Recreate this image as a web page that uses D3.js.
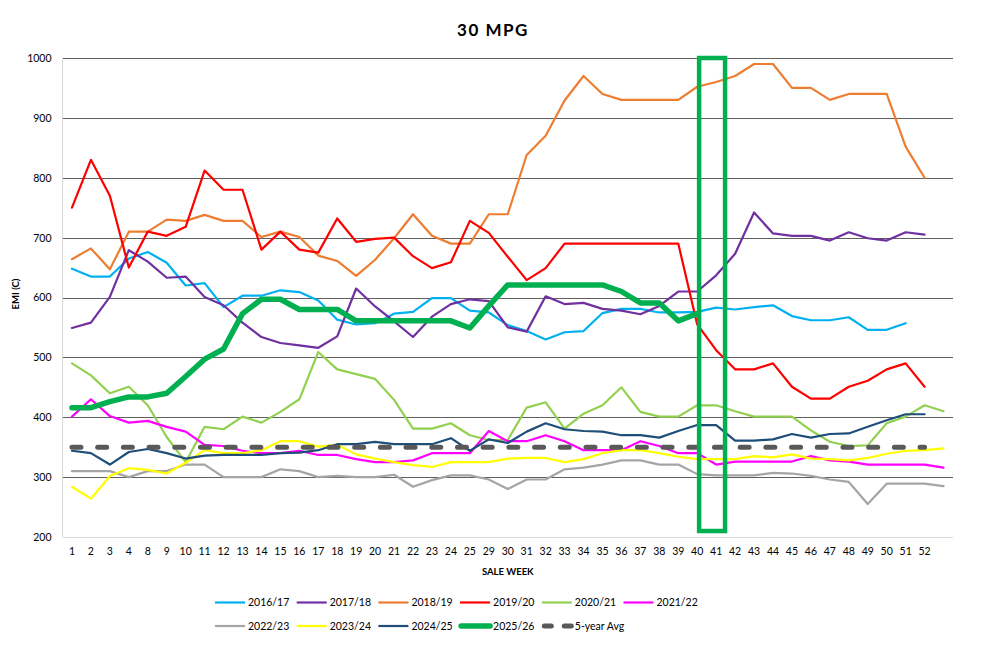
<!DOCTYPE html>
<html><head><meta charset="utf-8">
<script src="https://cdn.jsdelivr.net/npm/d3@7/dist/d3.min.js"></script>
<style>
body{margin:0;background:#fff;}
svg{display:block;font-family:Lato,"Liberation Sans",sans-serif;}
</style>
</head><body>
<svg id="chart" width="987" height="648"></svg>
<script>
// ---- data ----
const weeks = ["1","2","3","4","8","9","10","11","12","13","14","15","16","17","18","19","20","21","22","23","24","25",
  "29","30","31","32","33","34","35","36","37","38","39","40","41","42","43","44","45","46","47","48","49","50","51","52",""];
const yTicks = [200,300,400,500,600,700,800,900,1000];

const s2016_17 = [648,635,635,665,676,658,620,624,584,603,603,612,609,595,563,555,557,573,576,599,599,578,
  575,554,544,530,542,544,574,581,581,575,575,576,583,580,584,587,569,562,562,567,546,546,557];
const s2017_18 = [549,558,601,679,660,633,635,601,587,558,534,524,520,516,535,615,585,560,534,568,589,597,
  594,550,543,602,589,591,581,578,572,586,610,610,637,673,742,707,703,703,695,709,699,695,709,705];
const s2018_19 = [664,682,647,710,710,730,728,738,728,728,701,710,701,670,661,636,663,699,739,703,690,690,
  739,739,838,870,929,970,940,930,930,930,930,952,960,970,990,990,950,950,930,940,940,940,852,800];
const s2019_20 = [750,830,770,650,710,703,718,812,780,780,680,710,680,675,732,693,698,700,669,649,659,728,
  708,668,629,649,690,690,690,690,690,690,690,555,512,480,480,490,451,431,431,451,461,480,490,451];
const s2020_21 = [490,470,440,451,420,367,325,384,380,401,391,409,430,509,480,472,464,429,381,381,390,370,
  362,362,416,425,381,406,420,450,409,401,401,420,420,410,401,401,401,378,359,352,353,390,401,420,410];
const s2021_22 = [401,430,402,391,394,384,376,354,352,344,340,340,344,337,337,330,325,325,328,340,340,340,
  377,360,360,370,360,345,345,345,360,352,340,340,321,326,326,326,326,335,328,326,321,321,321,321,316];
const s2022_23 = [310,310,310,300,310,310,321,321,300,300,300,313,310,300,302,300,300,304,284,295,303,303,
  296,280,296,296,313,316,321,328,328,321,321,305,303,303,303,307,306,302,296,292,255,289,289,289,285];
const s2023_24 = [284,264,302,315,312,306,324,345,340,340,345,360,360,351,354,338,331,325,320,317,325,325,
  325,331,332,332,325,330,340,345,345,340,334,330,330,330,335,333,338,331,330,328,332,339,344,345,348];
const s2024_25 = [344,340,321,342,347,340,331,336,337,337,337,340,341,345,355,355,359,355,355,355,365,344,
  363,357,376,390,380,377,376,370,370,366,377,387,387,361,361,363,372,366,372,373,384,395,405,405];
const s2025_26 = [416,416,426,434,434,440,468,497,514,573,597,597,580,580,580,561,561,561,561,561,561,549,
  586,621,621,621,621,621,621,610,591,591,561,573];
const avg5yr = [350,350,350,350,350,350,350,350,350,350,350,350,350,350,350,350,350,350,350,350,350,350,
  350,350,350,350,350,350,350,350,350,350,350,350,350,350,350,350,350,350,350,350,350,350,350,350];

const seriesNames = ["2016/17","2017/18","2018/19","2019/20","2020/21","2021/22","2022/23","2023/24","2024/25","2025/26","5-year Avg"];
const seriesColors = ["#00B0F0","#7030A0","#ED7D31","#FF0000","#92D050","#FF00FF","#A5A5A5","#FFFF00","#1F4E79","#00B050","#595959"];
const seriesValues = [s2016_17,s2017_18,s2018_19,s2019_20,s2020_21,s2021_22,s2022_23,s2023_24,s2024_25,s2025_26,avg5yr];
const highlightWeeks = ["40","41"];
const highlightRange = [210,1000];

// ---- layout ----
const svg = d3.select("#chart");
const L = 62.5, R = 953, T = 58, B = 537;
const x = d3.scaleBand().domain(weeks).range([L, R]).padding(0);
const xc = d => x(d) + x.bandwidth()/2;
const y = d3.scaleLinear().domain([200,1000]).range([B, T]);

// title
svg.append("text").attr("x",493).attr("y",36).attr("text-anchor","middle")
  .attr("font-size",17).attr("font-weight","bold").attr("letter-spacing","1.5px").attr("fill","#000").text("30 MPG");

// y axis + gridlines
const gy = svg.append("g").attr("transform",`translate(${L},0)`)
  .call(d3.axisLeft(y).tickValues(yTicks).tickSize(-(R-L)).tickPadding(11).tickFormat(d3.format("d")));
gy.select(".domain").remove();
gy.selectAll(".tick line").attr("stroke", d => d===200 ? "#D9D9D9" : "#5F5F5F").attr("stroke-width",1)
  .attr("shape-rendering","crispEdges");
gy.selectAll(".tick text").attr("font-size",10.5).attr("fill","#000").attr("font-family","Lato, 'Liberation Sans', sans-serif");
svg.append("line").attr("x1",L).attr("x2",L).attr("y1",T).attr("y2",B)
  .attr("stroke","#D9D9D9").attr("shape-rendering","crispEdges");

// x axis
const gx = svg.append("g").attr("transform",`translate(0,${B})`)
  .call(d3.axisBottom(x).tickSize(0).tickPadding(11));
gx.select(".domain").remove();
gx.selectAll(".tick text").attr("font-size",10.5).attr("fill","#000").attr("font-family","Lato, 'Liberation Sans', sans-serif");

// axis titles
svg.append("text").attr("x",(L+R)/2).attr("y",575).attr("text-anchor","middle")
  .attr("font-size",9.5).attr("font-weight","bold").text("SALE WEEK");
svg.append("text").attr("transform","translate(19,294) rotate(-90)").attr("text-anchor","middle")
  .attr("font-size",9.5).attr("font-weight","bold").text("EMI (C)");

// series
const line = d3.line().x((d,i) => xc(weeks[i])).y(d => y(d));
seriesValues.forEach((vals, k) => {
  const name = seriesNames[k];
  const p = svg.append("path").datum(vals).attr("d", line)
    .attr("fill","none").attr("stroke",seriesColors[k])
    .attr("stroke-linejoin","round");
  if (name === "2025/26") p.attr("stroke-width",5.5).attr("stroke-linecap","round");
  else if (name === "5-year Avg") p.attr("stroke-width",5).attr("stroke-dasharray","9,16.7").attr("stroke-linecap","round");
  else p.attr("stroke-width",2.2).attr("stroke-linecap","round");
});

// highlight rectangle
const step = x.step();
const hx0 = xc(highlightWeeks[0]) + 0.1*step, hx1 = xc(highlightWeeks[1]) + 0.47*step;
svg.append("rect").attr("x",hx0).attr("y",y(highlightRange[1]))
  .attr("width",hx1-hx0).attr("height",y(highlightRange[0])-y(highlightRange[1]))
  .attr("fill","none").attr("stroke","#00B050").attr("stroke-width",4.5);

// legend
const leg = svg.append("g");
seriesNames.forEach((name,k) => {
  const row = k < 6 ? 0 : 1, col = k < 6 ? k : k-6;
  const lx = 215 + col*81.7, ly = row === 0 ? 602.5 : 626;
  const g = leg.append("g");
  const ln = g.append("line").attr("y1",ly).attr("y2",ly).attr("stroke",seriesColors[k]);
  if (name === "5-year Avg") {
    ln.attr("x1",lx+2.5).attr("x2",lx+29.5).attr("stroke-width",5).attr("stroke-dasharray","7,13").attr("stroke-linecap","round");
  } else if (name === "2025/26") {
    ln.attr("x1",lx+1).attr("x2",lx+30).attr("stroke-width",5.5).attr("stroke-linecap","round");
  } else {
    ln.attr("x1",lx).attr("x2",lx+30).attr("stroke-width",2.2);
  }
  g.append("text").attr("x",lx+33).attr("y",ly+3.8).attr("font-size",10.5).attr("fill","#000").text(name);
});
</script>
</body></html>
